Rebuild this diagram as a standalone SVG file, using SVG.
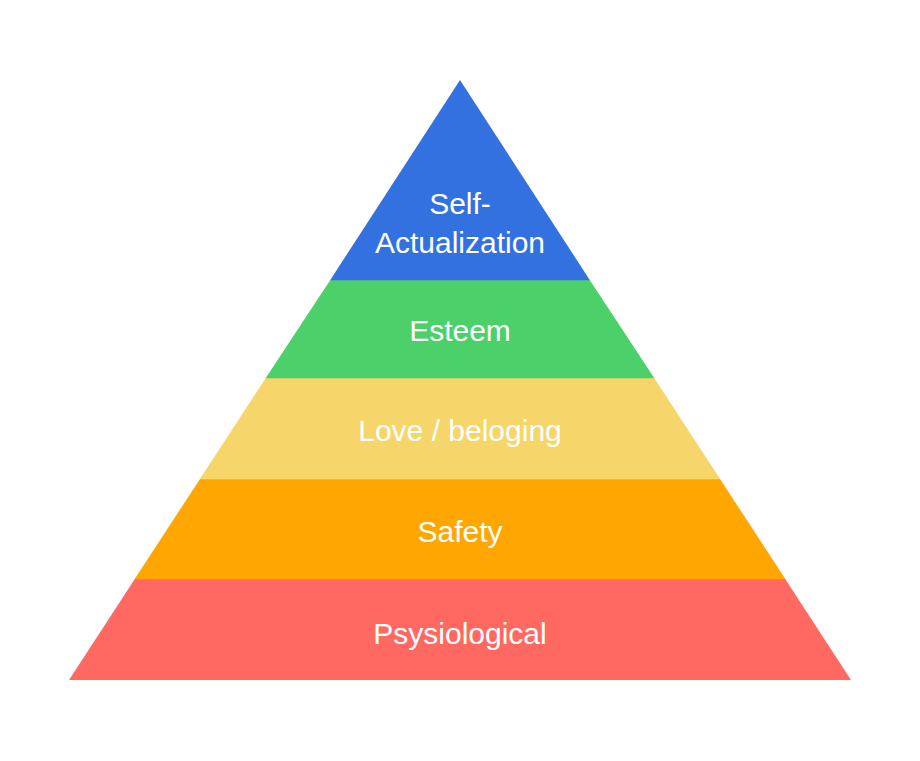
<svg xmlns="http://www.w3.org/2000/svg" width="920" height="761" viewBox="0 0 920 761">
<style>
.lbl{font-family:"Liberation Sans",Arial,Helvetica,sans-serif;font-size:30px;fill:#ffffff;text-anchor:middle}
</style>
<rect width="920" height="761" fill="#ffffff"/>
<g id="physiological">
<polygon points="134.8,579 785.2,579 851,680 69,680" fill="#FF6961"/>
<text class="lbl" x="460" y="643.5">Psysiological</text>
</g>
<g id="safety">
<polygon points="200,479 720,479 785.5,579.2 134.5,579.2" fill="#FFA600"/>
<text class="lbl" x="460" y="542">Safety</text>
</g>
<g id="love">
<polygon points="265.8,378 654.2,378 720.3,479.2 199.7,479.2" fill="#F6D66A"/>
<text class="lbl" x="460" y="441">Love / beloging</text>
</g>
<g id="esteem">
<polygon points="330.3,280 589.7,280 654.4,378.2 265.6,378.2" fill="#4CD06A"/>
<text class="lbl" x="460" y="341">Esteem</text>
</g>
<g id="self-actualization">
<polygon points="460,80 589.9,280.2 330.1,280.2" fill="#3471E0"/>
<text class="lbl" x="460" y="214">Self-</text>
<text class="lbl" x="460" y="253">Actualization</text>
</g>
<g id="connectors"/>
</svg>
